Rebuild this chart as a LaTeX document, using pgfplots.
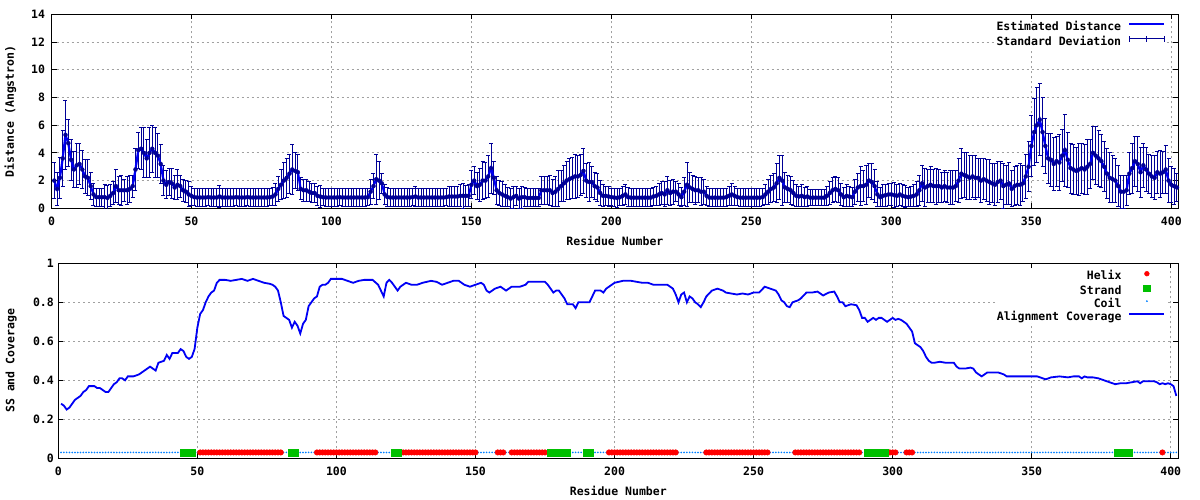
\documentclass[border=0pt]{standalone}
\usepackage{pgfplots}
\pgfplotsset{compat=1.18}
\usepackage{pgfplotstable}
\usepackage{fontspec}
\setmainfont{DejaVu Sans Mono}
\newcommand{\myfont}{\fontsize{11.5bp}{13bp}\selectfont\bfseries}
\definecolor{lineblue}{RGB}{0,0,245}
\definecolor{barblue}{RGB}{0,0,150}
\definecolor{helixred}{RGB}{255,0,0}
\definecolor{strandgreen}{RGB}{0,192,0}
\definecolor{coilblue}{RGB}{0,128,255}
\definecolor{gridgray}{RGB}{160,160,160}

\pgfplotstableread[row sep=\\]{
x y e\\
1 2.0 1.3\\ 2 1.4 1.2\\ 3 2.2 1.5\\ 4 3.6 2.0\\ 5 5.3 2.5\\ 6 4.7 1.7\\ 7 3.5 1.5\\ 8 2.8 1.3\\ 9 3.1 1.6\\ 10 3.2 1.5\\
11 2.8 1.4\\ 12 2.3 1.2\\ 13 2.2 1.3\\ 14 1.6 1.0\\ 15 1.0 0.8\\ 16 0.8 0.65\\ 17 0.8 0.65\\ 18 0.8 0.65\\ 19 0.8 0.9\\ 20 0.75 0.9\\
21 0.9 0.8\\ 22 1.1 0.8\\ 23 1.6 1.2\\ 24 1.3 1.0\\ 25 1.3 1.1\\ 26 1.3 0.8\\ 27 1.3 1.0\\ 28 1.4 1.0\\ 29 1.6 0.8\\ 30 2.8 1.5\\
31 4.2 1.3\\ 32 4.3 1.5\\ 33 4.0 1.8\\ 34 3.6 1.4\\ 35 4.0 1.8\\ 36 4.3 1.7\\ 37 4.0 1.8\\ 38 3.8 1.6\\ 39 3.2 1.4\\ 40 2.0 1.1\\
41 1.7 1.0\\ 42 1.9 1.0\\ 43 1.8 1.1\\ 44 1.5 0.9\\ 45 1.7 1.1\\ 46 1.6 0.8\\ 47 1.3 0.8\\ 48 1.2 0.8\\ 49 1.0 0.9\\ 50 0.9 0.7\\
51 0.8 0.63\\ 52 0.78 0.63\\ 53 0.78 0.63\\ 54 0.78 0.63\\ 55 0.78 0.63\\ 56 0.8 0.63\\ 57 0.78 0.63\\ 58 0.78 0.63\\ 59 0.78 0.63\\ 60 0.85 0.8\\
61 0.78 0.63\\ 62 0.78 0.63\\ 63 0.78 0.63\\ 64 0.78 0.63\\ 65 0.78 0.63\\ 66 0.8 0.63\\ 67 0.78 0.63\\ 68 0.78 0.63\\ 69 0.78 0.63\\ 70 0.8 0.63\\
71 0.78 0.63\\ 72 0.78 0.63\\ 73 0.78 0.63\\ 74 0.78 0.63\\ 75 0.78 0.63\\ 76 0.78 0.63\\ 77 0.78 0.63\\ 78 0.8 0.63\\ 79 0.85 0.65\\ 80 1.0 0.8\\
81 1.4 0.9\\ 82 1.7 1.1\\ 83 2.0 1.3\\ 84 2.2 1.4\\ 85 2.5 1.4\\ 86 2.8 1.8\\ 87 2.7 1.3\\ 88 2.6 1.3\\ 89 1.4 0.8\\ 90 1.3 0.8\\
91 1.3 0.8\\ 92 1.2 0.7\\ 93 1.1 0.7\\ 94 1.1 0.7\\ 95 0.9 0.7\\ 96 0.85 0.8\\ 97 0.8 0.6\\ 98 0.78 0.63\\ 99 0.78 0.63\\ 100 0.78 0.63\\
101 0.78 0.63\\ 102 0.78 0.63\\ 103 0.8 0.63\\ 104 0.78 0.63\\ 105 0.78 0.63\\ 106 0.78 0.63\\ 107 0.78 0.63\\ 108 0.78 0.63\\ 109 0.78 0.63\\ 110 0.78 0.63\\
111 0.78 0.63\\ 112 0.78 0.63\\ 113 0.8 0.63\\ 114 1.2 0.9\\ 115 1.6 0.9\\ 116 2.1 1.8\\ 117 2.0 1.4\\ 118 1.8 0.7\\ 119 1.0 0.7\\ 120 0.8 0.7\\
121 0.78 0.63\\ 122 0.78 0.63\\ 123 0.78 0.63\\ 124 0.78 0.63\\ 125 0.78 0.63\\ 126 0.78 0.63\\ 127 0.78 0.63\\ 128 0.78 0.63\\ 129 0.8 0.63\\ 130 0.85 0.7\\
131 0.78 0.63\\ 132 0.78 0.63\\ 133 0.78 0.63\\ 134 0.78 0.63\\ 135 0.78 0.63\\ 136 0.78 0.63\\ 137 0.78 0.63\\ 138 0.78 0.63\\ 139 0.78 0.63\\ 140 0.78 0.63\\
141 0.8 0.63\\ 142 0.85 0.7\\ 143 0.85 0.7\\ 144 0.85 0.75\\ 145 0.85 0.7\\ 146 0.9 0.8\\ 147 0.9 0.9\\ 148 0.9 0.75\\ 149 0.9 0.8\\ 150 1.7 1.0\\
151 2.0 1.0\\ 152 1.6 1.0\\ 153 1.7 1.2\\ 154 2.0 1.4\\ 155 2.0 1.3\\ 156 2.3 1.5\\ 157 2.9 1.8\\ 158 2.2 1.2\\ 159 1.3 1.0\\ 160 1.1 0.9\\
161 1.0 0.9\\ 162 0.9 0.8\\ 163 0.8 0.7\\ 164 0.7 0.7\\ 165 0.8 0.8\\ 166 0.9 0.7\\ 167 0.7 0.7\\ 168 0.8 0.8\\ 169 0.8 0.7\\ 170 0.75 0.65\\
171 0.75 0.65\\ 172 0.75 0.65\\ 173 0.75 0.65\\ 174 0.75 0.65\\ 175 1.3 1.0\\ 176 1.3 1.0\\ 177 1.3 1.0\\ 178 1.3 1.1\\ 179 1.1 1.0\\ 180 1.2 1.1\\
181 1.4 1.3\\ 182 1.6 1.1\\ 183 1.8 1.3\\ 184 2.0 1.4\\ 185 2.1 1.5\\ 186 2.2 1.5\\ 187 2.3 1.6\\ 188 2.3 1.5\\ 189 2.4 1.5\\ 190 2.7 1.6\\
191 2.0 1.2\\ 192 1.9 1.4\\ 193 1.9 1.1\\ 194 1.6 1.0\\ 195 1.5 1.0\\ 196 1.1 0.9\\ 197 0.9 0.8\\ 198 0.9 0.7\\ 199 0.85 0.7\\ 200 0.8 0.6\\
201 0.78 0.65\\ 202 0.75 0.7\\ 203 0.8 0.6\\ 204 0.9 0.7\\ 205 1.0 0.7\\ 206 0.8 0.7\\ 207 0.77 0.65\\ 208 0.77 0.65\\ 209 0.77 0.65\\ 210 0.77 0.65\\
211 0.77 0.65\\ 212 0.77 0.65\\ 213 0.77 0.65\\ 214 0.77 0.65\\ 215 0.85 0.65\\ 216 0.9 0.7\\ 217 1.0 0.8\\ 218 1.1 0.8\\ 219 1.0 0.9\\ 220 1.3 1.0\\
221 1.1 0.9\\ 222 1.2 0.9\\ 223 1.2 0.7\\ 224 1.0 0.8\\ 225 0.8 0.7\\ 226 1.2 1.0\\ 227 1.7 1.6\\ 228 1.5 1.1\\ 229 1.4 1.0\\ 230 1.3 1.0\\
231 1.3 0.9\\ 232 1.2 1.0\\ 233 1.2 0.9\\ 234 0.9 0.7\\ 235 0.77 0.65\\ 236 0.77 0.65\\ 237 0.77 0.65\\ 238 0.77 0.65\\ 239 0.77 0.65\\ 240 0.77 0.65\\
241 0.8 0.65\\ 242 0.9 0.7\\ 243 1.0 0.8\\ 244 0.9 0.7\\ 245 0.8 0.6\\ 246 0.77 0.65\\ 247 0.77 0.65\\ 248 0.77 0.65\\ 249 0.77 0.65\\ 250 0.77 0.65\\
251 0.77 0.65\\ 252 0.77 0.65\\ 253 0.77 0.65\\ 254 0.8 0.6\\ 255 1.0 0.7\\ 256 1.2 0.9\\ 257 1.4 1.0\\ 258 1.5 1.0\\ 259 1.8 1.4\\ 260 2.2 1.6\\
261 2.0 1.8\\ 262 1.5 1.1\\ 263 1.4 1.0\\ 264 1.3 1.0\\ 265 1.1 0.9\\ 266 0.9 0.8\\ 267 0.85 0.7\\ 268 0.9 0.8\\ 269 0.8 0.7\\ 270 0.85 0.7\\
271 0.77 0.6\\ 272 0.77 0.6\\ 273 0.77 0.6\\ 274 0.77 0.6\\ 275 0.77 0.6\\ 276 0.77 0.6\\ 277 0.9 0.7\\ 278 1.1 0.8\\ 279 1.3 0.9\\ 280 1.4 0.9\\
281 1.3 0.9\\ 282 1.0 0.8\\ 283 0.8 0.7\\ 284 0.9 0.8\\ 285 0.85 0.7\\ 286 0.8 0.7\\ 287 1.2 0.9\\ 288 1.5 1.0\\ 289 1.6 1.4\\ 290 1.6 1.1\\
291 1.7 1.4\\ 292 2.0 1.2\\ 293 1.9 1.3\\ 294 1.6 1.2\\ 295 1.0 0.9\\ 296 0.8 0.7\\ 297 0.9 0.8\\ 298 0.95 0.8\\ 299 1.0 0.8\\ 300 1.0 0.8\\
301 0.95 0.9\\ 302 0.9 0.8\\ 303 1.0 0.8\\ 304 0.9 0.8\\ 305 0.85 0.8\\ 306 0.8 0.7\\ 307 0.85 0.7\\ 308 0.9 0.8\\ 309 1.0 0.9\\ 310 1.3 1.1\\
311 1.8 1.3\\ 312 1.5 1.4\\ 313 1.6 1.2\\ 314 1.7 1.3\\ 315 1.6 1.2\\ 316 1.6 1.3\\ 317 1.6 1.2\\ 318 1.5 1.1\\ 319 1.6 1.1\\ 320 1.5 1.1\\
321 1.5 1.2\\ 322 1.5 1.2\\ 323 1.6 1.1\\ 324 2.0 1.6\\ 325 2.5 1.8\\ 326 2.4 1.6\\ 327 2.3 1.7\\ 328 2.2 1.6\\ 329 2.3 1.5\\ 330 2.2 1.6\\
331 2.2 1.4\\ 332 2.0 1.6\\ 333 2.1 1.5\\ 334 2.0 1.5\\ 335 1.9 1.6\\ 336 1.8 1.4\\ 337 1.7 1.5\\ 338 1.9 1.5\\ 339 2.0 1.4\\ 340 1.6 1.6\\
341 1.7 1.4\\ 342 1.8 1.5\\ 343 1.4 1.3\\ 344 1.6 1.4\\ 345 1.7 1.4\\ 346 1.7 1.5\\ 347 1.8 1.3\\ 348 2.3 1.6\\ 349 3.0 1.8\\ 350 4.5 2.2\\
351 5.5 2.4\\ 352 6.0 2.7\\ 353 6.4 2.6\\ 354 5.5 2.5\\ 355 4.5 2.0\\ 356 3.6 1.8\\ 357 3.5 1.9\\ 358 3.2 1.9\\ 359 3.4 1.8\\ 360 3.3 2.0\\
361 3.8 1.9\\ 362 4.2 2.6\\ 363 3.5 2.0\\ 364 2.9 1.8\\ 365 2.8 1.8\\ 366 2.7 1.7\\ 367 2.8 1.9\\ 368 2.9 1.8\\ 369 2.8 1.8\\ 370 3.0 2.0\\
371 3.2 1.8\\ 372 4.0 1.9\\ 373 3.8 2.1\\ 374 3.6 2.0\\ 375 3.4 1.9\\ 376 3.0 1.8\\ 377 2.5 1.8\\ 378 2.2 1.8\\ 379 2.1 1.7\\ 380 2.0 1.6\\
381 1.6 1.5\\ 382 1.2 1.2\\ 383 1.2 1.2\\ 384 1.3 1.1\\ 385 2.5 1.5\\ 386 2.9 1.8\\ 387 3.4 1.8\\ 388 3.2 2.0\\ 389 2.6 1.8\\ 390 3.1 1.6\\
391 2.8 1.6\\ 392 2.5 1.4\\ 393 2.3 1.5\\ 394 2.2 1.6\\ 395 2.6 1.5\\ 396 2.5 1.7\\ 397 2.6 1.5\\ 398 2.8 1.7\\ 399 2.0 1.6\\ 400 1.7 1.3\\
401 1.6 1.3\\ 402 1.5 1.0\\
}\topdata

\pgfplotstableread[row sep=\\]{
x y\\
1 0.28\\ 2 0.27\\ 3 0.25\\ 4 0.26\\ 5 0.28\\ 6 0.30\\ 7 0.31\\ 8 0.32\\ 9 0.34\\ 10 0.35\\ 11 0.37\\ 12 0.37\\ 13 0.37\\ 14 0.36\\ 15 0.36\\
16 0.35\\ 17 0.34\\ 18 0.34\\ 19 0.36\\ 20 0.38\\ 21 0.39\\ 22 0.41\\ 23 0.41\\ 24 0.40\\ 25 0.42\\ 27 0.42\\ 29 0.43\\ 31 0.45\\ 33 0.47\\ 34 0.46\\
35 0.45\\ 36 0.49\\ 38 0.50\\ 39 0.53\\ 40 0.51\\ 41 0.54\\ 43 0.54\\ 44 0.56\\ 45 0.55\\ 46 0.52\\ 47 0.51\\ 48 0.52\\ 49 0.56\\ 50 0.67\\ 51 0.74\\
52 0.76\\ 53 0.80\\ 54 0.83\\ 55 0.85\\ 56 0.86\\ 57 0.90\\ 58 0.915\\ 60 0.915\\ 62 0.91\\ 64 0.915\\ 66 0.92\\ 68 0.91\\ 70 0.92\\ 72 0.91\\ 74 0.90\\
76 0.895\\ 77 0.89\\ 78 0.88\\ 79 0.86\\ 80 0.80\\ 81 0.73\\ 82 0.72\\ 83 0.71\\ 84 0.67\\ 85 0.70\\ 86 0.68\\ 87 0.64\\ 88 0.69\\ 89 0.71\\ 90 0.78\\
91 0.80\\ 92 0.82\\ 93 0.83\\ 94 0.88\\ 95 0.89\\ 96 0.89\\ 97 0.90\\ 98 0.92\\ 100 0.92\\ 102 0.92\\ 104 0.91\\ 106 0.90\\ 108 0.91\\ 110 0.915\\ 113 0.915\\
115 0.89\\ 116 0.86\\ 117 0.83\\ 118 0.90\\ 119 0.915\\ 120 0.90\\ 121 0.88\\ 122 0.86\\ 123 0.88\\ 125 0.90\\ 127 0.89\\ 129 0.89\\ 131 0.90\\ 134 0.91\\ 136 0.905\\
138 0.89\\ 140 0.90\\ 142 0.91\\ 144 0.91\\ 146 0.89\\ 148 0.88\\ 150 0.89\\ 152 0.90\\ 153 0.89\\ 154 0.86\\ 155 0.85\\ 157 0.87\\ 159 0.88\\ 160 0.87\\ 161 0.86\\
163 0.88\\ 166 0.88\\ 168 0.89\\ 169 0.905\\ 172 0.905\\ 175 0.905\\ 176 0.89\\ 177 0.87\\ 178 0.85\\ 179 0.86\\ 180 0.86\\ 181 0.84\\ 182 0.82\\ 183 0.79\\ 185 0.79\\
186 0.77\\ 187 0.80\\ 189 0.80\\ 191 0.80\\ 192 0.83\\ 193 0.86\\ 195 0.86\\ 196 0.85\\ 197 0.87\\ 198 0.88\\ 200 0.90\\ 203 0.91\\ 206 0.91\\ 208 0.905\\ 210 0.90\\
212 0.90\\ 214 0.89\\ 216 0.89\\ 219 0.89\\ 221 0.87\\ 222 0.84\\ 223 0.80\\ 224 0.84\\ 225 0.85\\ 226 0.80\\ 227 0.83\\ 228 0.82\\ 229 0.80\\ 230 0.79\\ 231 0.775\\
232 0.80\\ 233 0.83\\ 235 0.86\\ 237 0.87\\ 239 0.86\\ 240 0.85\\ 242 0.845\\ 244 0.84\\ 246 0.845\\ 248 0.84\\ 250 0.85\\ 252 0.85\\ 254 0.88\\ 256 0.87\\ 258 0.86\\
259 0.84\\ 260 0.81\\ 261 0.80\\ 262 0.78\\ 263 0.775\\ 264 0.80\\ 266 0.81\\ 267 0.82\\ 269 0.85\\ 271 0.85\\ 273 0.855\\ 275 0.835\\ 277 0.85\\ 279 0.855\\ 280 0.83\\
281 0.80\\ 282 0.80\\ 283 0.78\\ 285 0.79\\ 287 0.785\\ 288 0.76\\ 289 0.72\\ 290 0.72\\ 291 0.70\\ 292 0.71\\ 293 0.72\\ 294 0.71\\ 295 0.72\\ 296 0.72\\ 297 0.71\\
298 0.70\\ 299 0.71\\ 300 0.72\\ 301 0.71\\ 302 0.715\\ 303 0.71\\ 304 0.70\\ 305 0.69\\ 306 0.67\\ 307 0.65\\ 308 0.59\\ 309 0.58\\ 310 0.57\\ 311 0.55\\ 312 0.52\\
313 0.50\\ 314 0.49\\ 315 0.49\\ 317 0.495\\ 319 0.49\\ 321 0.49\\ 322 0.49\\ 323 0.47\\ 324 0.46\\ 326 0.46\\ 328 0.465\\ 329 0.46\\ 330 0.44\\ 331 0.43\\ 332 0.42\\
333 0.43\\ 334 0.44\\ 336 0.44\\ 338 0.44\\ 340 0.43\\ 341 0.42\\ 343 0.42\\ 346 0.42\\ 349 0.42\\ 352 0.42\\ 354 0.41\\ 355 0.405\\ 357 0.415\\ 360 0.42\\ 363 0.415\\
365 0.42\\ 367 0.42\\ 368 0.41\\ 369 0.42\\ 370 0.415\\ 372 0.415\\ 374 0.41\\ 376 0.40\\ 378 0.39\\ 380 0.38\\ 382 0.385\\ 384 0.385\\ 386 0.39\\ 388 0.395\\ 389 0.385\\
390 0.395\\ 392 0.395\\ 394 0.395\\ 395 0.39\\ 396 0.38\\ 397 0.385\\ 398 0.38\\ 399 0.385\\ 400 0.38\\ 401 0.37\\ 402 0.32\\
}\covdata

\pgfplotsset{
  lineleg/.style={legend image code/.code={\draw[##1] (0bp,3.5bp)--(35bp,3.5bp);}},
  errleg/.style={legend image code/.code={\draw[##1] (0bp,3.5bp)--(35bp,3.5bp) (0bp,0.5bp)--(0bp,6.5bp) (17.5bp,0.5bp)--(17.5bp,6.5bp) (35bp,0.5bp)--(35bp,6.5bp);}},
  markleg/.style={legend image code/.code={\path (0bp,3.5bp) (35bp,3.5bp); \draw[##1] plot coordinates {(17.5bp,3.5bp)};}},
  gp/.style={
    scale only axis,
    anchor=south west,
    axis line style={line width=1bp, black},
    tick align=inside,
    major tick length=5bp,
    tick style={line width=0.8bp, black},
    grid=major,
    grid style={line width=0.8bp, gridgray, dash pattern=on 2bp off 3bp},
    xtick={0,50,...,400},
    tick label style={font=\myfont},
    label style={font=\myfont},
    /pgf/number format/assume math mode=true,
    xticklabel style={yshift=-5bp},
    legend style={font=\myfont, draw=none, fill=white, inner sep=0pt, outer sep=0pt,
      row sep=2.5bp, column sep=7bp,
      nodes={inner sep=0pt, text height=8bp, text depth=2.5bp},
      at={(1,1)}, anchor=north east, xshift=-13bp, yshift=-8bp},
    legend cell align=right,
    legend plot pos=right,
  }
}

\begin{document}
\begin{tikzpicture}
\useasboundingbox (0,0) rectangle (1200bp,500bp);
\fill[white] (0,0) rectangle (1200bp,500bp);

\begin{axis}[gp, at={(51.5bp,291.7bp)}, width=1126.8bp, height=194bp,
  xmin=0, xmax=402.5, ymin=0, ymax=14, ytick={0,2,...,14},
  yticklabel style={xshift=-3bp},
  xlabel={Residue Number}, ylabel={Distance (Angstron)},
  xlabel style={at={(axis description cs:0.5,-0.17)}, anchor=center},
  ylabel style={at={(axis description cs:-0.0365,0.5)}, anchor=center}]
\addplot[only marks, mark=none, color=barblue, forget plot,
  error bars/.cd, y dir=both, y explicit, error mark=-,
  error bar style={draw=barblue, line width=1bp, solid},
  error mark options={rotate=90, draw=barblue, mark size=2bp, line width=1bp}]
  table[x=x, y=y, y error=e]{\topdata};
\addplot[lineblue, line width=2.2bp, forget plot] table[x=x, y=y]{\topdata};
\addlegendimage{lineblue, line width=2.2bp, lineleg}
\addlegendentry{Estimated Distance}
\addlegendimage{barblue, line width=1bp, errleg}
\addlegendentry{Standard Deviation}
\end{axis}

\begin{axis}[gp, at={(58.3bp,41.7bp)}, width=1120bp, height=195bp,
  xmin=0, xmax=402.7, ymin=0, ymax=1, ytick={0,0.2,0.4,0.6,0.8,1},
  yticklabel style={xshift=-1bp},
  xlabel={Residue Number}, ylabel={SS and Coverage},
  xlabel style={at={(axis description cs:0.5,-0.169)}, anchor=center},
  ylabel style={at={(axis description cs:-0.042,0.5)}, anchor=center}]
\addplot[only marks, mark=*, mark size=0.6bp, coilblue, mark options={draw=none, fill=coilblue}, forget plot] coordinates {
(1,.03)(2,.03)(3,.03)(4,.03)(5,.03)(6,.03)(7,.03)(8,.03)(9,.03)(10,.03)(11,.03)(12,.03)(13,.03)(14,.03)(15,.03)(16,.03)(17,.03)(18,.03)(19,.03)(20,.03)
(21,.03)(22,.03)(23,.03)(24,.03)(25,.03)(26,.03)(27,.03)(28,.03)(29,.03)(30,.03)(31,.03)(32,.03)(33,.03)(34,.03)(35,.03)(36,.03)(37,.03)(38,.03)(39,.03)(40,.03)
(41,.03)(42,.03)(43,.03)(44,.03)(49,.03)(50,.03)(81,.03)(82,.03)(83,.03)(86,.03)(87,.03)(88,.03)(89,.03)(90,.03)(91,.03)(92,.03)
(115,.03)(116,.03)(117,.03)(118,.03)(119,.03)(120,.03)(123,.03)(151,.03)(152,.03)(153,.03)(154,.03)(155,.03)(156,.03)(157,.03)(161,.03)(162,.03)(176,.03)
(184,.03)(185,.03)(186,.03)(187,.03)(188,.03)(189,.03)(192,.03)(193,.03)(194,.03)(195,.03)(196,.03)(197,.03)
(223,.03)(224,.03)(225,.03)(226,.03)(227,.03)(228,.03)(229,.03)(230,.03)(231,.03)(232,.03)
(256,.03)(257,.03)(258,.03)(259,.03)(260,.03)(261,.03)(262,.03)(263,.03)(264,.03)(289,.03)(290,.03)(298,.03)(302,.03)(303,.03)(304,.03)
(308,.03)(309,.03)(310,.03)(311,.03)(312,.03)(313,.03)(314,.03)(315,.03)(316,.03)(317,.03)(318,.03)(319,.03)(320,.03)(321,.03)(322,.03)(323,.03)(324,.03)(325,.03)(326,.03)(327,.03)
(328,.03)(329,.03)(330,.03)(331,.03)(332,.03)(333,.03)(334,.03)(335,.03)(336,.03)(337,.03)(338,.03)(339,.03)(340,.03)(341,.03)(342,.03)(343,.03)(344,.03)(345,.03)(346,.03)(347,.03)
(348,.03)(349,.03)(350,.03)(351,.03)(352,.03)(353,.03)(354,.03)(355,.03)(356,.03)(357,.03)(358,.03)(359,.03)(360,.03)(361,.03)(362,.03)(363,.03)(364,.03)(365,.03)(366,.03)(367,.03)
(368,.03)(369,.03)(370,.03)(371,.03)(372,.03)(373,.03)(374,.03)(375,.03)(376,.03)(377,.03)(378,.03)(379,.03)(380,.03)
(386,.03)(387,.03)(388,.03)(389,.03)(390,.03)(391,.03)(392,.03)(393,.03)(394,.03)(395,.03)(396,.03)(398,.03)(399,.03)(400,.03)(401,.03)(402,.03)
};
\addplot[only marks, mark=*, mark size=2.8bp, helixred, mark options={draw=helixred, fill=helixred, line width=0.3bp}, forget plot] coordinates {
(51,.03)(52,.03)(53,.03)(54,.03)(55,.03)(56,.03)(57,.03)(58,.03)(59,.03)(60,.03)(61,.03)(62,.03)(63,.03)(64,.03)(65,.03)(66,.03)(67,.03)(68,.03)(69,.03)(70,.03)
(71,.03)(72,.03)(73,.03)(74,.03)(75,.03)(76,.03)(77,.03)(78,.03)(79,.03)(80,.03)
(93,.03)(94,.03)(95,.03)(96,.03)(97,.03)(98,.03)(99,.03)(100,.03)(101,.03)(102,.03)(103,.03)(104,.03)(105,.03)(106,.03)(107,.03)(108,.03)(109,.03)(110,.03)(111,.03)(112,.03)(113,.03)(114,.03)
(124,.03)(125,.03)(126,.03)(127,.03)(128,.03)(129,.03)(130,.03)(131,.03)(132,.03)(133,.03)(134,.03)(135,.03)(136,.03)(137,.03)(138,.03)(139,.03)(140,.03)(141,.03)(142,.03)(143,.03)
(144,.03)(145,.03)(146,.03)(147,.03)(148,.03)(149,.03)(150,.03)(158,.03)(159,.03)(160,.03)
(163,.03)(164,.03)(165,.03)(166,.03)(167,.03)(168,.03)(169,.03)(170,.03)(171,.03)(172,.03)(173,.03)(174,.03)(175,.03)
(198,.03)(199,.03)(200,.03)(201,.03)(202,.03)(203,.03)(204,.03)(205,.03)(206,.03)(207,.03)(208,.03)(209,.03)(210,.03)(211,.03)(212,.03)(213,.03)(214,.03)(215,.03)(216,.03)(217,.03)
(218,.03)(219,.03)(220,.03)(221,.03)(222,.03)
(233,.03)(234,.03)(235,.03)(236,.03)(237,.03)(238,.03)(239,.03)(240,.03)(241,.03)(242,.03)(243,.03)(244,.03)(245,.03)(246,.03)(247,.03)(248,.03)(249,.03)(250,.03)(251,.03)(252,.03)
(253,.03)(254,.03)(255,.03)
(265,.03)(266,.03)(267,.03)(268,.03)(269,.03)(270,.03)(271,.03)(272,.03)(273,.03)(274,.03)(275,.03)(276,.03)(277,.03)(278,.03)(279,.03)(280,.03)(281,.03)(282,.03)(283,.03)(284,.03)
(285,.03)(286,.03)(287,.03)(288,.03)(299,.03)(300,.03)(301,.03)(305,.03)(306,.03)(307,.03)(397,.03)
};
\addplot[only marks, mark=square*, mark size=3.4bp, strandgreen, mark options={draw=none, fill=strandgreen}, forget plot] coordinates {
(45,.03)(46,.03)(47,.03)(48,.03)(84,.03)(85,.03)(121,.03)(122,.03)
(177,.03)(178,.03)(179,.03)(180,.03)(181,.03)(182,.03)(183,.03)(190,.03)(191,.03)
(291,.03)(292,.03)(293,.03)(294,.03)(295,.03)(296,.03)(297,.03)
(381,.03)(382,.03)(383,.03)(384,.03)(385,.03)
};
\addlegendimage{only marks, mark=*, mark size=2.4bp, helixred, mark options={draw=helixred, fill=helixred}, markleg}
\addlegendentry{Helix}
\addlegendimage{only marks, mark=square*, mark size=3.2bp, strandgreen, mark options={draw=none, fill=strandgreen}, markleg}
\addlegendentry{Strand}
\addlegendimage{only marks, mark=*, mark size=0.7bp, coilblue, mark options={draw=none, fill=coilblue}, markleg}
\addlegendentry{Coil}
\addplot[lineblue, line width=1.8bp, lineleg] table[x=x, y=y]{\covdata};
\addlegendentry{Alignment Coverage}
\end{axis}
\end{tikzpicture}
\end{document}
